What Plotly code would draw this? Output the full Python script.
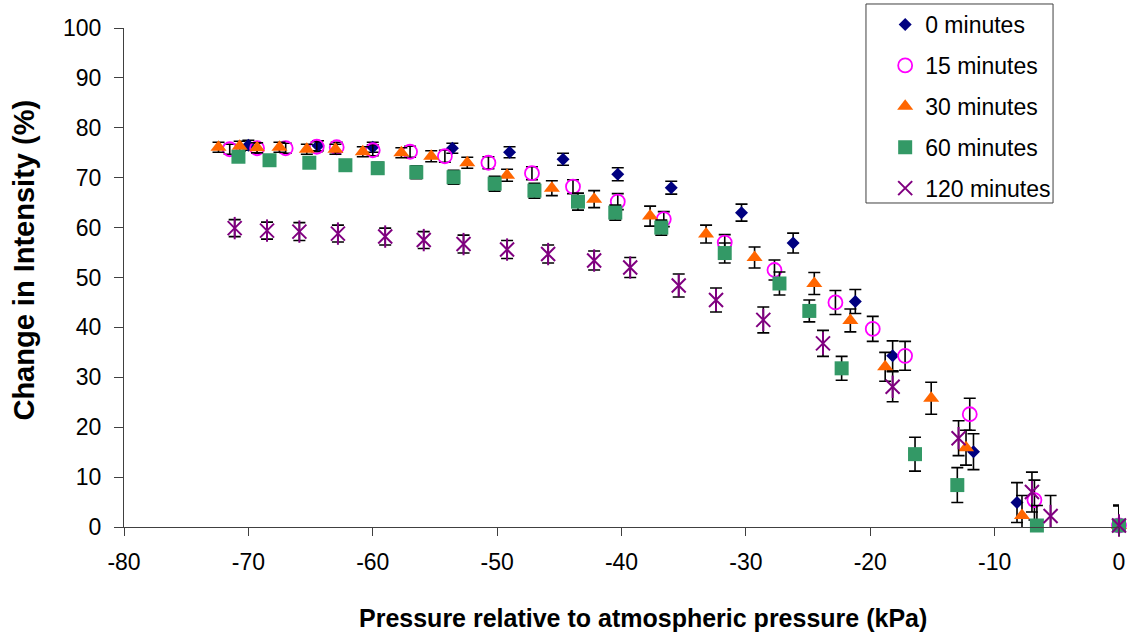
import plotly.graph_objects as go

# ---------------- data ----------------
x_0min = [-70.0, -64.4, -60.0, -53.6, -49.0, -44.7, -40.3, -36.0, -30.35, -26.2, -21.2, -18.2, -11.7, -8.2, 0.0]
y_0min = [76.5, 76.4, 76.1, 75.9, 75.1, 73.7, 70.7, 68.0, 63.0, 56.9, 45.2, 34.3, 15.1, 4.9, 0.3]
e_0min = [1.0, 1.0, 1.0, 1.0, 1.1, 1.2, 1.3, 1.3, 1.7, 2.0, 2.4, 3.0, 3.6, 4.0, 4.0]

x_15min = [-71.5, -69.3, -67.0, -64.5, -62.9, -60.0, -57.0, -54.2, -50.7, -47.2, -43.9, -40.3, -36.6, -31.7, -27.7, -22.8, -19.8, -17.2, -12.0, -6.8, 0.0]
y_15min = [75.7, 75.9, 75.9, 76.2, 76.1, 75.5, 75.2, 74.3, 73.0, 70.9, 68.2, 65.2, 61.7, 57.0, 51.5, 45.0, 39.7, 34.3, 22.6, 5.4, 0.3]
e_15min = [1.0, 1.0, 1.0, 1.0, 1.0, 1.1, 1.1, 1.2, 1.2, 1.3, 1.4, 1.6, 1.5, 1.6, 2.0, 2.4, 2.5, 2.9, 3.2, 4.0, 4.0]

x_30min = [-72.4, -70.7, -69.3, -67.5, -65.3, -63.0, -60.8, -57.7, -55.3, -52.4, -49.2, -45.6, -42.2, -37.7, -33.2, -29.3, -24.5, -21.6, -18.8, -15.1, -12.3, -7.8, 0.0]
y_30min = [76.1, 76.3, 76.0, 76.1, 75.7, 75.7, 75.2, 75.0, 74.3, 73.0, 70.5, 67.9, 65.7, 62.3, 58.7, 54.0, 48.8, 41.4, 32.1, 25.8, 15.9, 2.3, 0.3]
e_30min = [1.0, 1.0, 1.0, 1.0, 1.0, 1.0, 1.0, 1.0, 1.1, 1.1, 1.2, 1.5, 1.7, 2.0, 1.8, 2.1, 2.2, 2.3, 2.9, 3.2, 3.5, 4.0, 4.0]

x_60min = [-70.8, -68.3, -65.1, -62.2, -59.6, -56.5, -53.5, -50.2, -47.0, -43.5, -40.5, -36.8, -31.7, -27.3, -24.9, -22.3, -16.4, -13.0, -6.6, 0.0]
y_60min = [74.2, 73.5, 73.0, 72.5, 71.9, 71.1, 70.1, 68.8, 67.4, 65.2, 63.0, 60.0, 54.9, 48.8, 43.3, 31.8, 14.6, 8.4, 0.3, 0.3]
e_60min = [1.0, 1.0, 1.0, 1.1, 1.2, 1.3, 1.4, 1.5, 1.5, 1.7, 1.5, 1.5, 2.0, 2.3, 2.2, 2.4, 3.4, 3.5, 4.0, 4.0]

x_120min = [-71.1, -68.5, -65.9, -62.8, -59.0, -55.9, -52.7, -49.2, -45.9, -42.2, -39.3, -35.4, -32.4, -28.6, -23.8, -18.2, -12.9, -7.0, -5.5, 0.0]
y_120min = [59.9, 59.4, 59.2, 58.8, 58.2, 57.5, 56.7, 55.6, 54.7, 53.4, 52.0, 48.4, 45.5, 41.5, 36.8, 28.1, 17.8, 7.0, 2.2, 0.3]
e_120min = [1.7, 1.7, 1.8, 1.7, 1.7, 1.7, 1.8, 1.8, 1.8, 1.9, 2.0, 2.3, 2.4, 2.6, 2.6, 3.0, 3.5, 4.0, 4.1, 4.0]

series_names = ["0 minutes", "15 minutes", "30 minutes", "60 minutes", "120 minutes"]
x_ticks = [-80, -70, -60, -50, -40, -30, -20, -10, 0]
y_ticks = [0, 10, 20, 30, 40, 50, 60, 70, 80, 90, 100]
x_title = "Pressure relative to atmospheric pressure (kPa)"
y_title = "Change in Intensity (%)"

FONT = "Liberation Sans, Arial, sans-serif"
NAVY = "#000080"
MAGENTA = "#FF00FF"
ORANGE = "#FF6600"
GREEN = "#339966"
PURPLE = "#800080"


def err(e):
    return dict(type="data", array=e, visible=True, color="black", thickness=1.6, width=6)


fig = go.Figure()

fig.add_trace(go.Scatter(
    x=x_0min, y=y_0min, error_y=err(e_0min), mode="markers", name=series_names[0],
    legendgroup="g0", cliponaxis=False,
    marker=dict(symbol="diamond", size=10, color=NAVY, line=dict(width=0))))

fig.add_trace(go.Scatter(
    x=x_15min, y=y_15min, error_y=err(e_15min), mode="markers", name=series_names[1],
    legendgroup="g1", cliponaxis=False,
    marker=dict(symbol="circle-open", size=14, color=MAGENTA, line=dict(width=1.8, color=MAGENTA))))

fig.add_trace(go.Scatter(
    x=x_30min, y=y_30min, error_y=err(e_30min), mode="markers", name=series_names[2],
    legendgroup="g2", cliponaxis=False,
    marker=dict(symbol="triangle-up", size=14, color=ORANGE, line=dict(width=0))))

fig.add_trace(go.Scatter(
    x=x_60min, y=y_60min, error_y=err(e_60min), mode="markers", name=series_names[3],
    legendgroup="g3", cliponaxis=False,
    marker=dict(symbol="square", size=14, color=GREEN, line=dict(width=0))))

fig.add_trace(go.Scatter(
    x=x_120min, y=y_120min, error_y=err(e_120min), mode="markers", name=series_names[4],
    legendgroup="g4", cliponaxis=False,
    marker=dict(symbol="x-thin-open", size=14, color=PURPLE, line=dict(width=2, color=PURPLE))))

fig.add_trace(go.Scatter(
    x=x_120min, y=y_120min, mode="markers", name=series_names[4],
    legendgroup="g4", showlegend=False, cliponaxis=False, hoverinfo="skip",
    marker=dict(symbol="line-ns-open", size=16, color=PURPLE, line=dict(width=2, color=PURPLE))))

fig.update_layout(
    width=1128, height=635,
    margin=dict(l=124, r=9, t=28, b=108, autoexpand=False),
    paper_bgcolor="white", plot_bgcolor="white",
    font=dict(family=FONT, size=23, color="black"),
    showlegend=True,
    legend=dict(
        x=0.765, xref="paper", y=1.050, yref="paper", xanchor="left", yanchor="top",
        bgcolor="rgba(0,0,0,0)", borderwidth=0,
        traceorder="grouped", tracegroupgap=8,
        font=dict(family=FONT, size=23, color="black"),
    ),
    shapes=[dict(type="rect", xref="paper", yref="paper",
                 x0=0.7457, x1=0.9337, y0=0.6493, y1=1.0481,
                 line=dict(color="#404040", width=1), fillcolor="rgba(0,0,0,0)", layer="below")],
    annotations=[
        dict(text="<b>" + x_title + "</b>", xref="paper", yref="paper",
             x=0.5216, y=-0.1824, xanchor="center", yanchor="middle", showarrow=False,
             font=dict(family=FONT, size=25, color="black")),
        dict(text="<b>" + y_title + "</b>", xref="paper", yref="paper", textangle=-90,
             x=-0.1005, y=0.534, xanchor="center", yanchor="middle", showarrow=False,
             font=dict(family=FONT, size=29, color="black")),
    ],
)

fig.update_xaxes(
    range=[-80, 0], tickvals=x_ticks, ticktext=[str(v) for v in x_ticks],
    automargin=False,
    showgrid=False, zeroline=False, showline=True, linecolor="#404040", linewidth=1,
    ticks="outside", ticklen=8, tickcolor="#404040", ticklabelstandoff=6,
    tickfont=dict(family=FONT, size=23, color="black"),
)
fig.update_yaxes(
    range=[0, 100], tickvals=y_ticks, ticktext=[str(v) for v in y_ticks],
    automargin=False,
    showgrid=False, zeroline=False, showline=True, linecolor="#404040", linewidth=1,
    ticks="outside", ticklen=9, tickcolor="#404040", ticklabelstandoff=8,
    tickfont=dict(family=FONT, size=23, color="black"),
)

# remove the browser's default 8px body margin so the figure starts at the page corner
fig.write_html("out.html", config={"displayModeBar": False},
               post_script="document.body.style.margin='0px';")
